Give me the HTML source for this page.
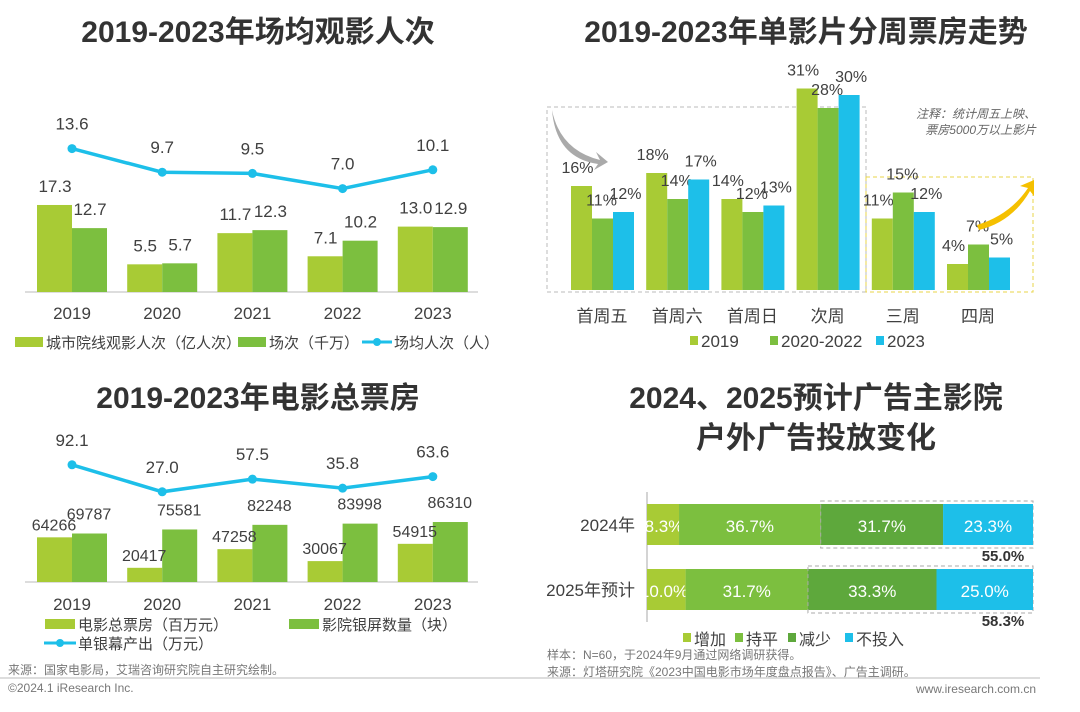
<!DOCTYPE html>
<html><head><meta charset="utf-8">
<style>
html,body{margin:0;padding:0;background:#fff;}
svg{display:block;font-family:"Liberation Sans","Noto Sans CJK SC",sans-serif;}
</style></head>
<body>
<svg id="s" width="1080" height="712" viewBox="0 0 1080 712" xmlns="http://www.w3.org/2000/svg">
<g id="titles" fill="#333" font-weight="bold" font-size="30" text-anchor="middle">
<text x="258" y="42">2019-2023年场均观影人次</text>
<text x="806" y="42">2019-2023年单影片分周票房走势</text>
<text x="258" y="408">2019-2023年电影总票房</text>
<text x="816" y="408">2024、2025预计广告主影院</text>
<text x="816" y="448">户外广告投放变化</text>
</g>
<g id="c1"></g><g id="c2"></g><g id="c3"></g><g id="c4"></g>
<g fill="#777" font-size="12">
<text x="8" y="674">来源：国家电影局，艾瑞咨询研究院自主研究绘制。</text>
<text x="8" y="692">©2024.1 iResearch Inc.</text>
<text x="547" y="659">样本：N=60，于2024年9月通过网络调研获得。</text>
<text x="547" y="676">来源：灯塔研究院《2023中国电影市场年度盘点报告》、广告主调研。</text>
<text x="1036" y="693" text-anchor="end">www.iresearch.com.cn</text>
</g>
<line x1="0" y1="678" x2="1040" y2="678" stroke="#bbb" stroke-width="1"/>
</svg>
<script>
const NS="http://www.w3.org/2000/svg";
// chart 1
const years=["2019","2020","2021","2022","2023"];
const attendance=[17.3,5.5,11.7,7.1,13.0];
const sessions=[12.7,5.7,12.3,10.2,12.9];
const perSession=[13.6,9.7,9.5,7.0,10.1];
// chart 2
const weeks=["首周五","首周六","首周日","次周","三周","四周"];
const share2019=[16,18,14,31,11,4];
const share2022=[11,14,12,28,15,7];
const share2023=[12,17,13,30,12,5];
// chart 3
const boxOffice=[64266,20417,47258,30067,54915];
const screens=[69787,75581,82248,83998,86310];
const perScreen=[92.1,27.0,57.5,35.8,63.6];
// chart 4
const adRows=["2024年","2025年预计"];
const adIncrease=[8.3,10.0];
const adFlat=[36.7,31.7];
const adDecrease=[31.7,33.3];
const adNone=[23.3,25.0];
const adTotals=["55.0%","58.3%"];

const C1="#a8cb35",C2="#7cbf3f",C3="#1dbfe9",C4="#5ea83c",TX="#404040";
function el(parent,tag,attrs,text){const e=document.createElementNS(NS,tag);for(const k in attrs)e.setAttribute(k,attrs[k]);if(text!==undefined)e.textContent=text;parent.appendChild(e);return e;}

// ---- chart 1
(function(){
const g=document.getElementById('c1');
const base=292, sb=5.03, lb=231, sl=6.06;
const cx=i=>72+i*90.2;
el(g,'line',{x1:25,y1:base,x2:478,y2:base,stroke:'#bbb'});
years.forEach((y,i)=>{
 const h1=attendance[i]*sb,h2=sessions[i]*sb;
 const b1=el(g,'rect',{x:cx(i)-35,y:base-h1,width:35,height:h1,fill:C1});
 
 
 const b2=el(g,'rect',{x:cx(i),y:base-h2,width:35,height:h2,fill:C2});
 
 
 el(g,'text',{x:cx(i)-17,y:base-h1-13,'font-size':17,fill:TX,'text-anchor':'middle'},attendance[i].toFixed(1));
 el(g,'text',{x:cx(i)+18,y:base-h2-13,'font-size':17,fill:TX,'text-anchor':'middle'},sessions[i].toFixed(1));
 el(g,'text',{x:cx(i),y:319,'font-size':17,fill:TX,'text-anchor':'middle'},y);
});
const pts=perSession.map((v,i)=>[cx(i),lb-v*sl]);
const pl=el(g,'polyline',{points:pts.map(p=>p.join(',')).join(' '),fill:'none',stroke:C3,'stroke-width':3.5});


pts.forEach((p,i)=>{el(g,'circle',{cx:p[0],cy:p[1],r:4.5,fill:C3});
 el(g,'text',{x:p[0],y:p[1]-19,'font-size':17,fill:TX,'text-anchor':'middle'},perSession[i].toFixed(1));});
el(g,'rect',{x:15,y:337,width:28,height:10,fill:C1});
el(g,'text',{x:46,y:348,'font-size':15,fill:TX},'城市院线观影人次（亿人次）');
el(g,'rect',{x:238,y:337,width:28,height:10,fill:C2});
el(g,'text',{x:269,y:348,'font-size':15,fill:TX},'场次（千万）');
el(g,'line',{x1:362,y1:342,x2:392,y2:342,stroke:C3,'stroke-width':3});
el(g,'circle',{cx:377,cy:342,r:4,fill:C3});
el(g,'text',{x:394,y:348,'font-size':15,fill:TX},'场均人次（人）');
})();

// ---- chart 2
(function(){
const g=document.getElementById('c2');
const base=290, s=6.5, bw=21;
const gx=i=>571+i*75.2;
el(g,'rect',{x:547,y:107,width:319,height:185,fill:'none',stroke:'#bbb','stroke-dasharray':'4,3'});
el(g,'rect',{x:866,y:177,width:167,height:115,fill:'none',stroke:'#e8d44a','stroke-dasharray':'4,3'});
const series=[[share2019,C1,'2019'],[share2022,C2,'2020-2022'],[share2023,C3,'2023']];
weeks.forEach((w,i)=>{
 series.forEach((sr,j)=>{
  const h=sr[0][i]*s, x=gx(i)+j*bw;
  const r=el(g,'rect',{x:x,y:base-h,width:bw,height:h,fill:sr[1]});
  
  
  el(g,'text',{x:x+bw/2-4+j*3,y:base-h-13,'font-size':16,fill:TX,'text-anchor':'middle'},sr[0][i]+'%');
 });
 el(g,'text',{x:gx(i)+31,y:322,'font-size':17,fill:TX,'text-anchor':'middle'},w);
});
el(g,'path',{d:'M552 110 Q560 150 600 160 L596 152 L608 162 L594 170 L598 164 Q556 158 552 110 Z',fill:'#aaa'});
el(g,'path',{d:'M977 225 Q1010 215 1028 188 L1020 186 L1034 180 L1034 196 L1030 191 Q1012 222 979 230 Z',fill:'#f5c000'});
el(g,'text',{x:1036,y:118,'font-size':12,'font-style':'italic',fill:'#666','text-anchor':'end'},'注释：统计周五上映、');
el(g,'text',{x:1036,y:134,'font-size':12,'font-style':'italic',fill:'#666','text-anchor':'end'},'票房5000万以上影片');
const lg=[[690,C1,'2019'],[770,C2,'2020-2022'],[876,C3,'2023']];
lg.forEach(l=>{el(g,'rect',{x:l[0],y:336,width:8,height:9,fill:l[1]});el(g,'text',{x:l[0]+11,y:347,'font-size':17,fill:TX},l[2]);});
})();

// ---- chart 3
(function(){
const g=document.getElementById('c3');
const base=582, sb=0.000695, lb=503, sl=0.415;
const cx=i=>72+i*90.2;
el(g,'line',{x1:25,y1:base,x2:478,y2:base,stroke:'#bbb'});
years.forEach((y,i)=>{
 const h1=boxOffice[i]*sb,h2=screens[i]*sb;
 const b1=el(g,'rect',{x:cx(i)-35,y:base-h1,width:35,height:h1,fill:C1});
 
 
 const b2=el(g,'rect',{x:cx(i),y:base-h2,width:35,height:h2,fill:C2});
 
 
 el(g,'text',{x:cx(i)-18,y:base-h1-7,'font-size':16,fill:TX,'text-anchor':'middle'},String(boxOffice[i]));
 el(g,'text',{x:cx(i)+17,y:base-h2-14,'font-size':16,fill:TX,'text-anchor':'middle'},String(screens[i]));
 el(g,'text',{x:cx(i),y:610,'font-size':17,fill:TX,'text-anchor':'middle'},y);
});
const pts=perScreen.map((v,i)=>[cx(i),lb-v*sl]);
const pl=el(g,'polyline',{points:pts.map(p=>p.join(',')).join(' '),fill:'none',stroke:C3,'stroke-width':3.5});


pts.forEach((p,i)=>{el(g,'circle',{cx:p[0],cy:p[1],r:4.5,fill:C3});
 el(g,'text',{x:p[0],y:p[1]-19,'font-size':17,fill:TX,'text-anchor':'middle'},perScreen[i].toFixed(1));});
el(g,'rect',{x:45,y:619,width:30,height:10,fill:C1});
el(g,'text',{x:78,y:630,'font-size':15,fill:TX},'电影总票房（百万元）');
el(g,'rect',{x:289,y:619,width:30,height:10,fill:C2});
el(g,'text',{x:322,y:630,'font-size':15,fill:TX},'影院银屏数量（块）');
el(g,'line',{x1:44,y1:643,x2:76,y2:643,stroke:C3,'stroke-width':3});
el(g,'circle',{cx:60,cy:643,r:4,fill:C3});
el(g,'text',{x:78,y:649,'font-size':15,fill:TX},'单银幕产出（万元）');
})();

// ---- chart 4
(function(){
const g=document.getElementById('c4');
const x0=647, W=386, ys=[504,569], bh=41;
const sx=v=>v/100*W;
el(g,'line',{x1:x0,y1:492,x2:x0,y2:622,stroke:'#aaa'});
const segs=[[adIncrease,C1,'increase'],[adFlat,C2,'flat'],[adDecrease,C4,'decrease'],[adNone,C3,'none']];
adRows.forEach((r,i)=>{
 let x=x0;
 segs.forEach((sg,j)=>{
  const w=sx(sg[0][i]);
  const rc=el(g,'rect',{x:x,y:ys[i],width:w,height:bh,fill:sg[1]});
  
  
  el(g,'text',{x:j==0?x+17:x+w/2,y:ys[i]+28,'font-size':17,fill:'#fff','text-anchor':'middle'},sg[0][i].toFixed(1)+'%');
  if(j==2){const bx=x;el(g,'rect',{x:bx,y:ys[i]-3,width:x0+W-bx,height:bh+6,fill:'none',stroke:'#aaa','stroke-dasharray':'4,3'});}
  x+=w;
 });
 el(g,'text',{x:635,y:ys[i]+27,'font-size':17,fill:TX,'text-anchor':'end'},r);
 el(g,'text',{x:1003,y:ys[i]+57,'font-size':15,'font-weight':'bold',fill:'#333','text-anchor':'middle'},adTotals[i]);
});
const lg=[[683,C1,'增加'],[735,C2,'持平'],[788,C4,'减少'],[845,C3,'不投入']];
lg.forEach(l=>{el(g,'rect',{x:l[0],y:633,width:8,height:9,fill:l[1]});el(g,'text',{x:l[0]+11,y:645,'font-size':16,fill:TX},l[2]);});
})();
</script>
</body></html>
